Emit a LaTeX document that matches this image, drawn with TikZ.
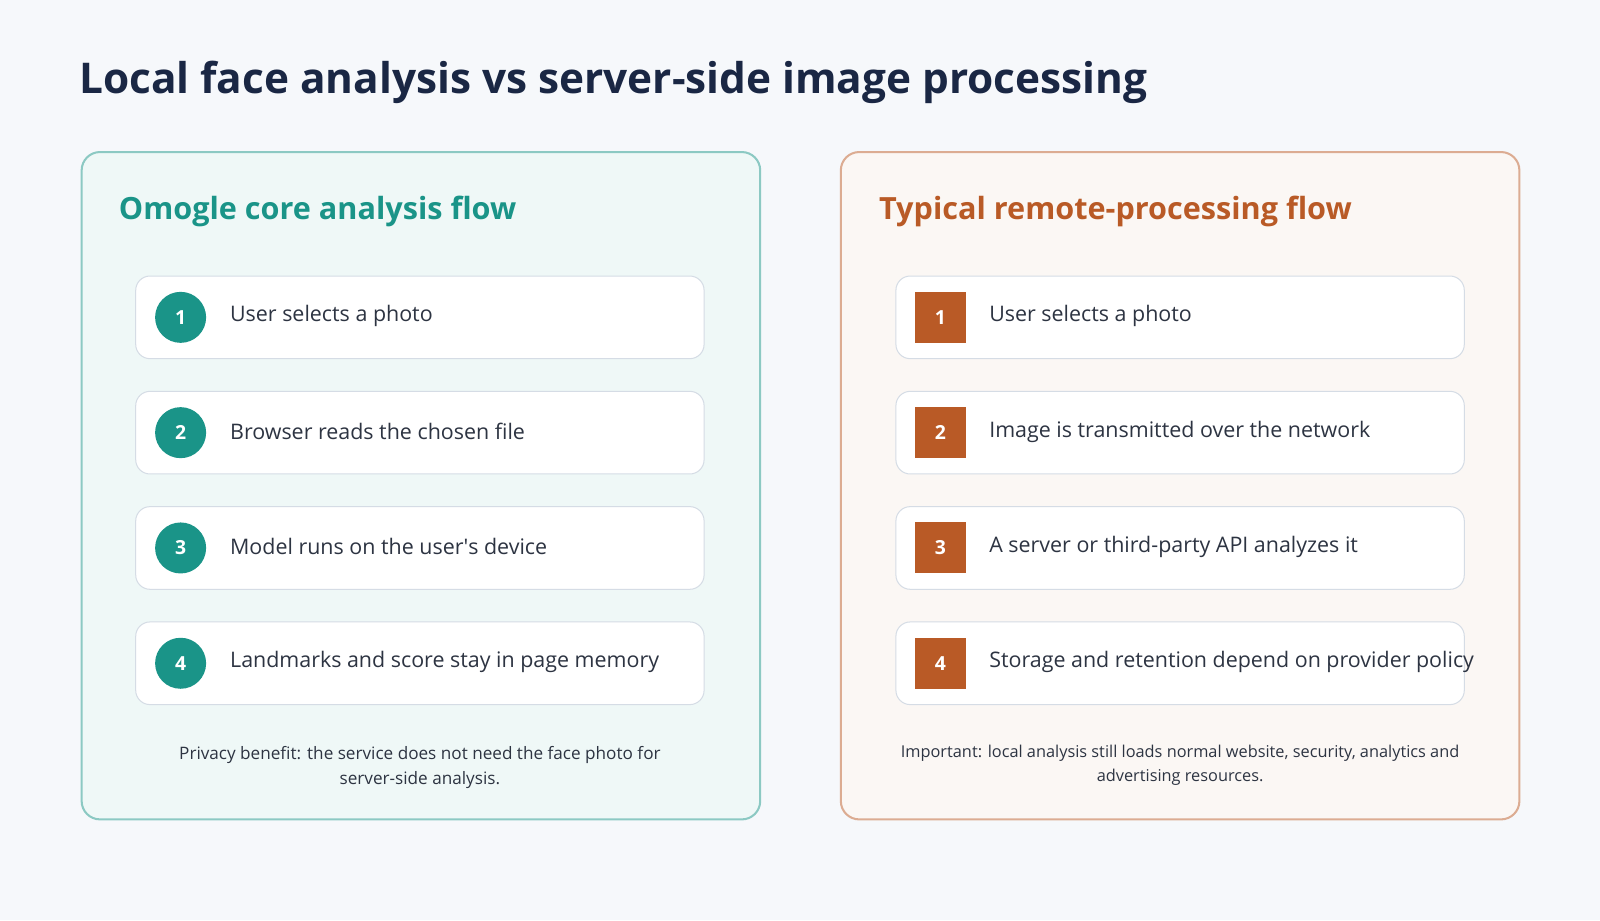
\documentclass[tikz,border=0pt]{standalone}
\usepackage{fontspec}
\setmainfont{Open Sans}
\newfontfamily\plainfont{Open Sans}
\begin{document}
\begin{tikzpicture}[x=1pt,y=-1pt,
  card/.style={draw=cardb,fill=white,rounded corners=14pt,line width=1pt},
  txt/.style={anchor=west,text=txtc,font=\fontsize{21}{24}\selectfont},
  circ/.style={circle,fill=teal1,minimum size=50pt,inner sep=0,text=white,font=\fontsize{19}{22}\selectfont\bfseries},
  sq/.style={rectangle,fill=org1,minimum size=50pt,inner sep=0,text=white,font=\fontsize{19}{22}\selectfont\bfseries},
  note/.style={align=center,text=txtc,font=\fontsize{16.8}{24}\selectfont}]
\definecolor{bg}{HTML}{F6F8FB}
\definecolor{navy}{HTML}{1A2744}
\definecolor{teal1}{HTML}{1A9488}
\definecolor{org1}{HTML}{B95A26}
\definecolor{cardb}{HTML}{D5DCE5}
\definecolor{txtc}{HTML}{2D3442}
\fill[bg] (0,0) rectangle (1568,902);
\useasboundingbox (0,0) rectangle (1568,902);
\node[anchor=west,text=navy,font=\fontsize{41.5}{46}\selectfont\bfseries] (title) at (74,81) {Local face analysis vs server-side image processing};
\node[draw=teal1!50,fill=teal1!7,line width=2pt,rounded corners=18pt,minimum width=665pt,minimum height=654pt] (lp) at (412.5,476) {};
\node[draw=org1!50,fill=org1!5,line width=2pt,rounded corners=18pt,minimum width=665pt,minimum height=654pt] (rp) at (1156.5,476) {};
\node[anchor=west,text=teal1,font=\fontsize{30}{34}\selectfont\bfseries] (lh) at (113,207) {Omogle core analysis flow};
\node[anchor=west,text=org1,font=\fontsize{30}{34}\selectfont\bfseries] (rh) at (858,207) {Typical remote-processing flow};
\foreach \i/\y/\t in {1/311/User selects a photo,2/424/Browser reads the chosen file,3/537/Model runs on the user{\plainfont'}s device,4/650/Landmarks and score stay in page memory}{
  \node[card,minimum width=557pt,minimum height=81pt] (lc\i) at (411.5,\y) {};
  \node[circ] (lb\i) at (177,\y) {\i};
  \node[txt] (lt\i) at (222,\y-1) {\t};
}
\foreach \i/\y/\t in {1/311/User selects a photo,2/424/Image is transmitted over the network,3/537/A server or third-party API analyzes it,4/650/Storage and retention depend on provider policy}{
  \node[card,minimum width=557pt,minimum height=81pt] (rc\i) at (1156.5,\y) {};
  \node[sq] (rb\i) at (921.5,\y) {\i};
  \node[txt] (rt\i) at (966,\y-1) {\t};
}
\node[note] (ln) at (411.5,752) {Privacy benefit: the service does not need the face photo for\\server-side analysis.};
\node[note,font=\fontsize{16}{24}\selectfont] (rn) at (1156.5,750) {Important: local analysis still loads normal website, security, analytics and\\advertising resources.};
\end{tikzpicture}
\end{document}
